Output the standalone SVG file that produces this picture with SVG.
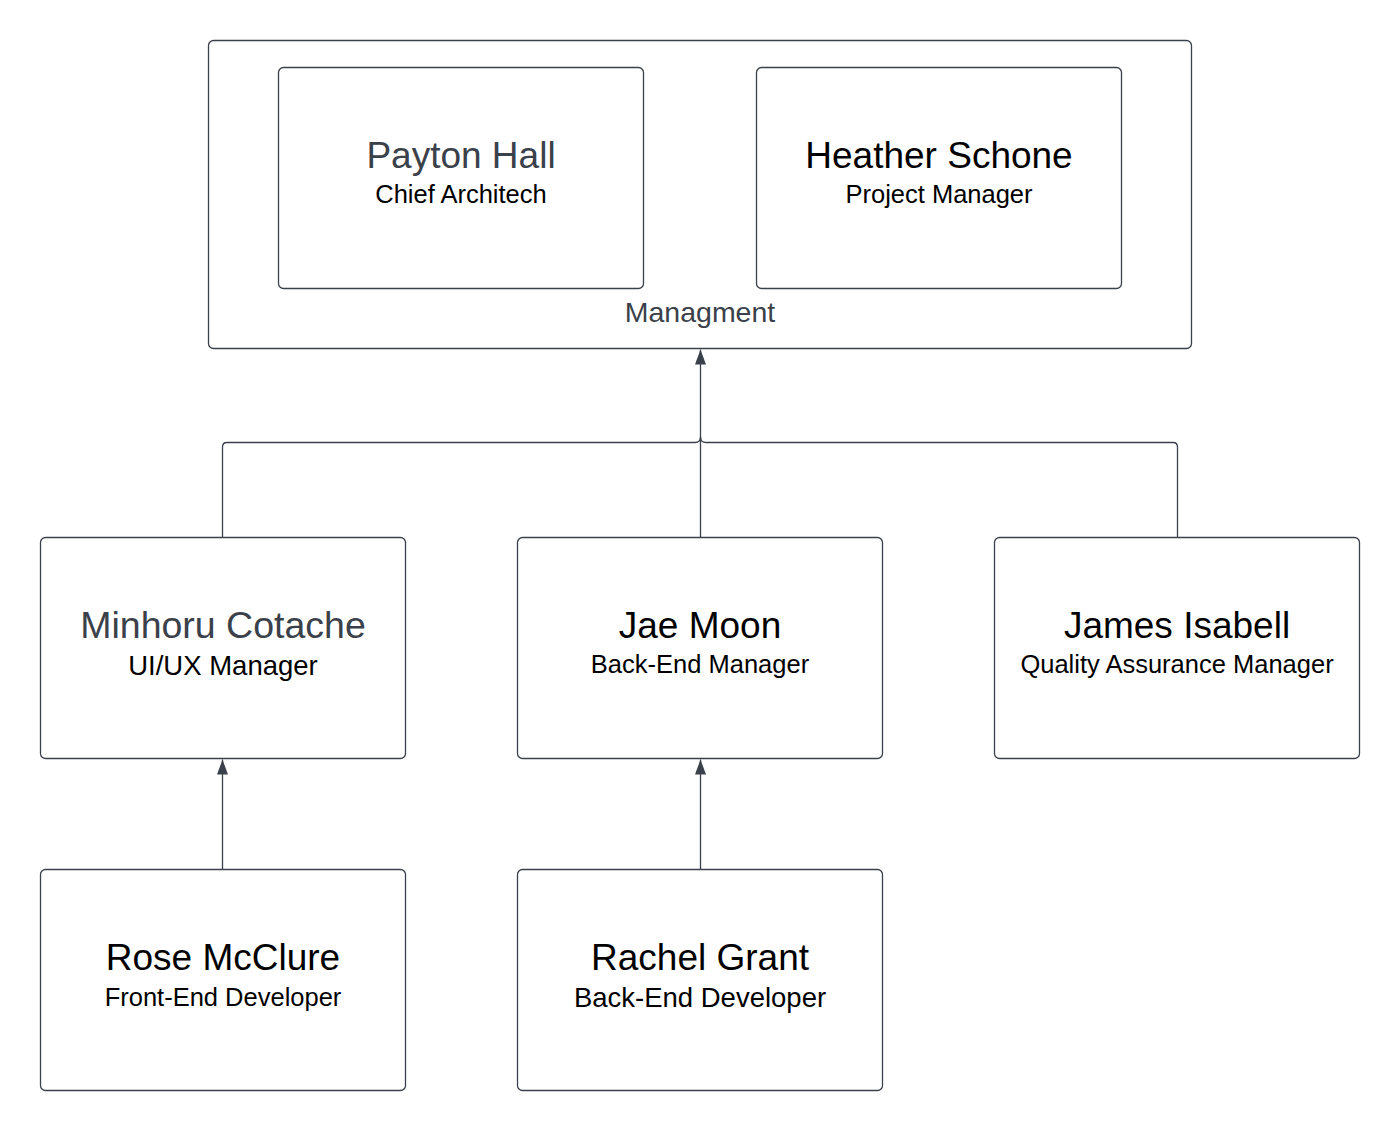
<svg xmlns="http://www.w3.org/2000/svg" width="1400" height="1131" viewBox="0 0 1400 1131">
<style>
.box{fill:#ffffff;stroke:#3a414a;stroke-width:1.3}
.name{font-family:"Liberation Sans",Arial,sans-serif;font-size:37px;fill:#000;text-anchor:middle}
.sub{font-family:"Liberation Sans",Arial,sans-serif;font-size:25.5px;fill:#000;text-anchor:middle}
.grey{fill:#3a414a}
.conn{fill:none;stroke:#3a414a;stroke-width:1.3}
</style>
<defs>
<marker id="arr" viewBox="0 0 16 12" markerWidth="16" markerHeight="12" refX="16" refY="6" orient="auto" markerUnits="userSpaceOnUse">
<path d="M16,6 L1,0.5 L1,11.5 Z" fill="#3a414a"/>
</marker>
</defs>
<rect width="1400" height="1131" fill="#ffffff"/>
<g id="management">
<rect class="box" x="208.5" y="40.5" width="983" height="308" rx="5"/>
<text class="sub grey" x="700" y="322" style="font-size:28.5px">Managment</text>
</g>
<g id="payton-hall">
<rect class="box" x="278.5" y="67.5" width="365" height="221" rx="5"/>
<text class="name grey" x="461" y="168">Payton Hall</text>
<text class="sub" x="461" y="203">Chief Architech</text>
</g>
<g id="heather-schone">
<rect class="box" x="756.5" y="67.5" width="365" height="221" rx="5"/>
<text class="name" x="939" y="168">Heather Schone</text>
<text class="sub" x="939" y="203">Project Manager</text>
</g>
<g id="minhoru-cotache">
<rect class="box" x="40.5" y="537.5" width="365" height="221" rx="5"/>
<text class="name grey" x="223" y="638" style="font-size:37.5px">Minhoru Cotache</text>
<text class="sub" x="223" y="675" style="font-size:27.5px">UI/UX Manager</text>
</g>
<g id="jae-moon">
<rect class="box" x="517.5" y="537.5" width="365" height="221" rx="5"/>
<text class="name" x="700" y="638">Jae Moon</text>
<text class="sub" x="700" y="673">Back-End Manager</text>
</g>
<g id="james-isabell">
<rect class="box" x="994.5" y="537.5" width="365" height="221" rx="5"/>
<text class="name" x="1177" y="638">James Isabell</text>
<text class="sub" x="1177" y="673">Quality Assurance Manager</text>
</g>
<g id="rose-mcclure">
<rect class="box" x="40.5" y="869.5" width="365" height="221" rx="5"/>
<text class="name" x="223" y="970">Rose McClure</text>
<text class="sub" x="223" y="1006">Front-End Developer</text>
</g>
<g id="rachel-grant">
<rect class="box" x="517.5" y="869.5" width="365" height="221" rx="5"/>
<text class="name" x="700" y="970">Rachel Grant</text>
<text class="sub" x="700" y="1007" style="font-size:27.5px">Back-End Developer</text>
</g>
<g id="connectors">
<path class="conn" d="M700.5,537 V349.5" marker-end="url(#arr)"/>
<path class="conn" d="M222.5,537 V447 Q222.5,442.5 227,442.5 H695 Q700.5,442.5 700.5,437"/>
<path class="conn" d="M1177.5,537 V447 Q1177.5,442.5 1173,442.5 H706 Q700.5,442.5 700.5,437"/>
<path class="conn" d="M222.5,869 V759.5" marker-end="url(#arr)"/>
<path class="conn" d="M700.5,869 V759.5" marker-end="url(#arr)"/>
</g>
</svg>
